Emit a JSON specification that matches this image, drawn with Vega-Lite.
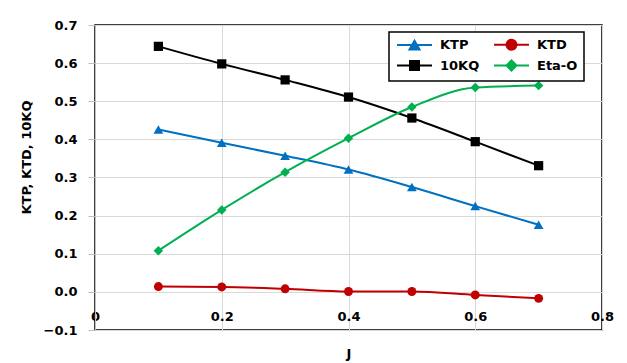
{
  "$schema": "https://vega.github.io/schema/vega-lite/v6.json",
  "autosize": {"type": "none"},
  "width": 507,
  "height": 305,
  "padding": {"left": 95, "top": 25, "right": 25, "bottom": 33},
  "background": "white",
  "config": {
    "font": "DejaVu Sans",
    "view": {"stroke": "#000000", "strokeWidth": 1.5},
    "axis": {
      "labelFont": "DejaVu Sans",
      "labelFontSize": 13,
      "labelFontWeight": "bold",
      "labelColor": "#000000",
      "titleFont": "DejaVu Sans",
      "titleFontSize": 13,
      "titleFontWeight": "bold",
      "titleColor": "#000000",
      "gridColor": "#D9D9D9",
      "gridWidth": 1
    },
    "legend": {
      "title": null,
      "orient": "none",
      "legendX": 294,
      "legendY": 7,
      "columns": 2,
      "direction": "horizontal",
      "columnPadding": 10,
      "rowPadding": 2,
      "padding": 6,
      "strokeColor": "#000000",
      "strokeWidth": 1.5,
      "fillColor": "#FFFFFF",
      "labelFont": "DejaVu Sans",
      "labelFontSize": 13,
      "labelFontWeight": "bold",
      "labelColor": "#000000",
      "symbolSize": 100,
      "symbolOffset": 13,
      "labelOffset": 19,
      "symbolStrokeWidth": 2,
      "symbolOpacity": 1
    }
  },
  "data": {
    "values": [
      {"J": 0.1, "series": "KTP", "value": 0.426},
      {"J": 0.2, "series": "KTP", "value": 0.391},
      {"J": 0.3, "series": "KTP", "value": 0.357},
      {"J": 0.4, "series": "KTP", "value": 0.321},
      {"J": 0.5, "series": "KTP", "value": 0.275},
      {"J": 0.6, "series": "KTP", "value": 0.225},
      {"J": 0.7, "series": "KTP", "value": 0.176},
      {"J": 0.1, "series": "KTD", "value": 0.014},
      {"J": 0.2, "series": "KTD", "value": 0.013},
      {"J": 0.3, "series": "KTD", "value": 0.008},
      {"J": 0.4, "series": "KTD", "value": 0.001},
      {"J": 0.5, "series": "KTD", "value": 0.001},
      {"J": 0.6, "series": "KTD", "value": -0.008},
      {"J": 0.7, "series": "KTD", "value": -0.017},
      {"J": 0.1, "series": "10KQ", "value": 0.644},
      {"J": 0.2, "series": "10KQ", "value": 0.598},
      {"J": 0.3, "series": "10KQ", "value": 0.556},
      {"J": 0.4, "series": "10KQ", "value": 0.511},
      {"J": 0.5, "series": "10KQ", "value": 0.456},
      {"J": 0.6, "series": "10KQ", "value": 0.394},
      {"J": 0.7, "series": "10KQ", "value": 0.331},
      {"J": 0.1, "series": "Eta-O", "value": 0.108},
      {"J": 0.2, "series": "Eta-O", "value": 0.215},
      {"J": 0.3, "series": "Eta-O", "value": 0.314},
      {"J": 0.4, "series": "Eta-O", "value": 0.403},
      {"J": 0.5, "series": "Eta-O", "value": 0.485},
      {"J": 0.6, "series": "Eta-O", "value": 0.536},
      {"J": 0.7, "series": "Eta-O", "value": 0.541}
    ]
  },
  "encoding": {
    "x": {
      "field": "J",
      "type": "quantitative",
      "scale": {"domain": [0, 0.8], "nice": false, "zero": false},
      "axis": {
        "title": "J",
        "values": [0, 0.2, 0.4, 0.6, 0.8],
        "format": ".1~f",
        "ticks": false,
        "domain": false,
        "labelBaseline": "alphabetic",
        "labelPadding": -10,
        "labelFlush": false,
        "labelOverlap": false,
        "titleBaseline": "alphabetic",
        "titleY": 27
      }
    },
    "y": {
      "field": "value",
      "type": "quantitative",
      "scale": {"domain": [-0.1, 0.7], "nice": false, "zero": false},
      "axis": {
        "title": "KTP, KTD, 10KQ",
        "values": [-0.1, 0, 0.1, 0.2, 0.3, 0.4, 0.5, 0.6, 0.7],
        "format": ".1f",
        "tickSize": 7,
        "tickColor": "#BFBFBF",
        "domainColor": "#BFBFBF",
        "labelPadding": 11,
        "labelFlush": false,
        "labelOverlap": false,
        "titlePadding": 10,
        "titleY": 132
      }
    },
    "color": {
      "field": "series",
      "type": "nominal",
      "scale": {
        "domain": ["KTP", "KTD", "10KQ", "Eta-O"],
        "range": ["#0070C0", "#C00000", "#000000", "#00B050"]
      }
    }
  },
  "layer": [
    {
      "mark": {"type": "line", "strokeWidth": 2, "interpolate": "monotone"}
    },
    {
      "transform": [{"filter": "datum.series === 'KTP'"}],
      "mark": {"type": "point", "filled": true, "opacity": 1, "size": 95, "shape": "triangle-up"}
    },
    {
      "transform": [{"filter": "datum.series === 'KTD'"}],
      "mark": {"type": "point", "filled": true, "opacity": 1, "size": 80, "shape": "circle"}
    },
    {
      "transform": [{"filter": "datum.series === '10KQ'"}],
      "mark": {"type": "point", "filled": true, "opacity": 1, "size": 85, "shape": "square"}
    },
    {
      "transform": [{"filter": "datum.series === 'Eta-O'"}],
      "mark": {"type": "point", "filled": true, "opacity": 1, "size": 90, "shape": "diamond"}
    },
    {
      "transform": [{"filter": "datum.J > 1"}],
      "mark": {"type": "point", "filled": true, "opacity": 1},
      "encoding": {
        "shape": {
          "field": "series",
          "type": "nominal",
          "scale": {
            "domain": ["KTP", "KTD", "10KQ", "Eta-O"],
            "range": [
              "M-3.5,0H3.5M0,-0.87L1,0.87L-1,0.87Z",
              "M-3.5,0H3.5M1,0A1,1,0,1,1,-1,0A1,1,0,1,1,1,0Z",
              "M-3.5,0H3.5M-0.9,-0.9H0.9V0.9H-0.9Z",
              "M-3.5,0H3.5M0,-1L1,0L0,1L-1,0Z"
            ]
          }
        }
      }
    }
  ]
}
